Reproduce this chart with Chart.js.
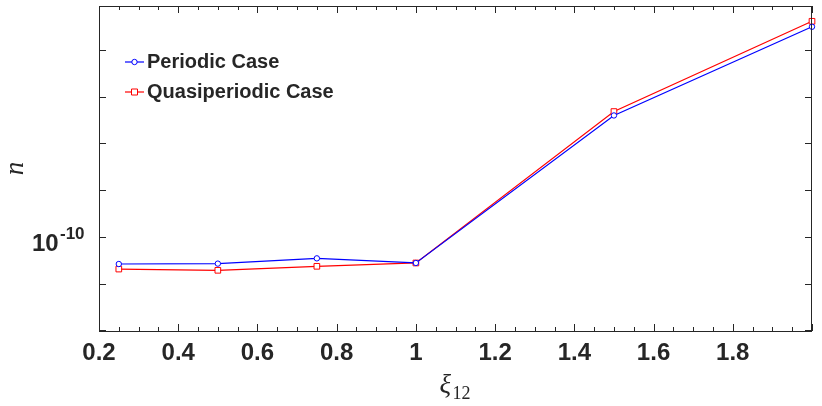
<!DOCTYPE html>
<html>
<head>
<meta charset="utf-8">
<script src="https://cdn.jsdelivr.net/npm/chart.js@4.4.1/dist/chart.umd.min.js"></script>
<style>
  html, body { margin: 0; padding: 0; background: #fff; }
</style>
</head>
<body>
<canvas id="chartN" width="822" height="406"></canvas>
<script>
// values
const xi = [0.25, 0.5, 0.75, 1.0, 1.5, 2.0]
const periodicN = [7.66e-11, 7.69e-11, 8.10e-11, 7.74e-11, 3.31e-10, 7.93e-10]
const quasiN = [7.29e-11, 7.20e-11, 7.49e-11, 7.74e-11, 3.44e-10, 8.37e-10]
const seriesNames = ['Periodic Case', 'Quasiperiodic Case']
const yTicks = [10 ** -10.4, 10 ** -10.2, 1e-10, 10 ** -9.8, 10 ** -9.6, 10 ** -9.4, 10 ** -9.2]
const yMin = 3.96e-11
const yMax = 9.73e-10

const ink = '#262626'

function pointsOf(vals) {
  return xi.map((x, i) => ({x: x, y: vals[i]}))
}

// MATLAB style box: inward ticks on all four sides, legend, axis names
const boxPlugin = {
  id: 'box',
  afterDraw(chart) {
    const ctx = chart.ctx
    const a = chart.chartArea
    const xs = chart.scales.x
    const ys = chart.scales.y
    ctx.save()
    ctx.strokeStyle = ink
    ctx.lineWidth = 1
    ctx.strokeRect(a.left + 0.5, a.top + 0.5, a.right - a.left - 1, a.bottom - a.top)

    ctx.beginPath()
    for (let k = 4; k <= 40; k++) {
      const px = Math.round(xs.getPixelForValue(k * 0.05)) + 0.5
      const len = k % 4 === 0 ? 7 : 4
      ctx.moveTo(px, a.bottom); ctx.lineTo(px, a.bottom - len)
      ctx.moveTo(px, a.top); ctx.lineTo(px, a.top + len)
    }
    yTicks.forEach(v => {
      const py = Math.round(ys.getPixelForValue(v)) + 0.5
      ctx.moveTo(a.left, py); ctx.lineTo(a.left + 7, py)
      ctx.moveTo(a.right, py); ctx.lineTo(a.right - 7, py)
    })
    ctx.stroke()

    // 10^-10 label
    const p10 = ys.getPixelForValue(1e-10)
    ctx.fillStyle = ink
    ctx.textAlign = 'left'
    ctx.textBaseline = 'alphabetic'
    ctx.font = 'bold 24px "Liberation Sans", Arial, sans-serif'
    ctx.fillText('10', 32, p10 + 14)
    ctx.font = 'bold 17px "Liberation Sans", Arial, sans-serif'
    ctx.fillText('-10', 60, p10 + 2.5)

    // legend
    chart.data.datasets.forEach((ds, i) => {
      const ly = 62 + i * 30
      ctx.strokeStyle = ds.borderColor
      ctx.lineWidth = 1.2
      ctx.beginPath()
      ctx.moveTo(125, ly); ctx.lineTo(144, ly)
      ctx.stroke()
      ctx.lineWidth = 1
      ctx.beginPath()
      if (ds.pointStyle === 'rect') {
        ctx.rect(131.5, ly - 3, 6, 6)
      } else {
        ctx.arc(134.5, ly, 2.7, 0, Math.PI * 2)
      }
      ctx.fillStyle = '#fff'
      ctx.fill()
      ctx.stroke()
      ctx.fillStyle = ink
      ctx.font = 'bold 20px "Liberation Sans", Arial, sans-serif'
      ctx.fillText(ds.label, 147, ly + 6)
    })

    // axis names
    ctx.fillStyle = ink
    ctx.font = 'italic 27px "Liberation Serif", "DejaVu Serif", serif'
    ctx.save()
    ctx.translate(23, (a.top + a.bottom) / 2)
    ctx.rotate(-Math.PI / 2)
    ctx.textAlign = 'center'
    ctx.fillText('n', 0, 0)
    ctx.restore()

    const cx = (a.left + a.right) / 2
    ctx.font = 'italic 27px "Liberation Serif", "DejaVu Serif", serif'
    ctx.textAlign = 'left'
    ctx.fillText('ξ', cx - 16, 393)
    ctx.font = '18px "Liberation Serif", "DejaVu Serif", serif'
    ctx.fillText('12', cx - 3, 399)
    ctx.restore()
  }
}

new Chart(document.getElementById('chartN'), {
  type: 'line',
  data: {
    datasets: [{
      label: seriesNames[0],
      data: pointsOf(periodicN),
      borderColor: '#0000ff',
      backgroundColor: '#ffffff',
      borderWidth: 1.2,
      pointStyle: 'circle',
      pointRadius: 2.7,
      pointBorderWidth: 1,
      tension: 0
    }, {
      label: seriesNames[1],
      data: pointsOf(quasiN),
      borderColor: '#ff0000',
      backgroundColor: '#ffffff',
      borderWidth: 1.2,
      pointStyle: 'rect',
      pointRadius: 4,
      pointBorderWidth: 1,
      tension: 0
    }]
  },
  options: {
    responsive: false,
    animation: false,
    clip: false,
    layout: {padding: {top: 6, right: 10, left: 0, bottom: 0}},
    plugins: {legend: {display: false}, tooltip: {enabled: false}},
    scales: {
      x: {
        type: 'linear',
        min: 0.2,
        max: 2.0,
        grid: {display: false, drawTicks: false},
        border: {display: false},
        afterFit(scale) { scale.height = 75 },
        ticks: {
          stepSize: 0.2,
          autoSkip: false,
          maxRotation: 0,
          padding: 8,
          color: ink,
          font: {family: '"Liberation Sans", Arial, sans-serif', size: 24, weight: 'bold'},
          callback: v => (Math.abs(v - 2) < 1e-6 ? '' : String(Math.round(v * 10) / 10))
        }
      },
      y: {
        type: 'logarithmic',
        min: yMin,
        max: yMax,
        grid: {display: false, drawTicks: false},
        border: {display: false},
        afterBuildTicks(scale) { scale.ticks = yTicks.map(v => ({value: v})) },
        afterFit(scale) { scale.width = 99 },
        ticks: {display: false}
      }
    }
  },
  plugins: [boxPlugin]
})
</script>
</body>
</html>
